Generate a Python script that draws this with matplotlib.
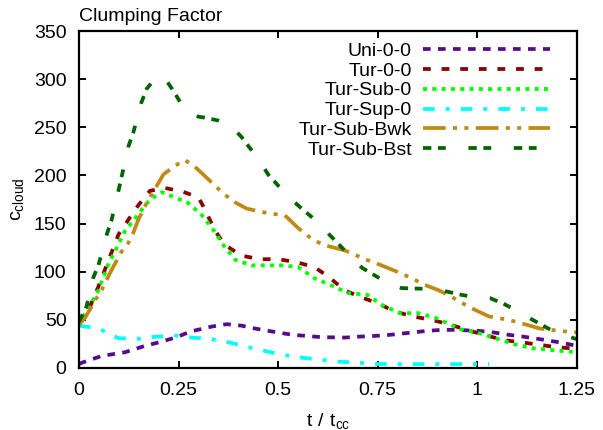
import numpy as np
import matplotlib
matplotlib.use('Agg')
import matplotlib.pyplot as plt

plt.rcParams['font.family'] = ['Liberation Sans', 'DejaVu Sans']
plt.rcParams['font.size'] = 14
plt.rcParams['lines.scale_dashes'] = False

# values (t / t_cc , c_cloud)
t_uni = [0, 0.007, 0.057, 0.115, 0.166, 0.208, 0.249, 0.279, 0.333, 0.371,
         0.408, 0.442, 0.5, 0.538, 0.609, 0.668, 0.705, 0.743, 0.78, 0.835,
         0.873, 0.91, 0.948, 1.005, 1.04, 1.08, 1.115, 1.172, 1.21, 1.25]
c_uni = [4, 5.5, 12.5, 16.3, 23, 27.4, 32.6, 37.8, 43, 45.5,
         44, 41, 36.8, 34.4, 32, 31.6, 32.6, 33.3, 34.4, 36.8,
         38.5, 39.6, 39.6, 38.5, 37, 34.4, 32.6, 29, 26.4, 23]

t_tur = [0, 0.007, 0.028, 0.049, 0.065, 0.099, 0.124, 0.149, 0.178, 0.216,
         0.262, 0.3, 0.316, 0.341, 0.366, 0.408, 0.454, 0.5, 0.546, 0.592,
         0.626, 0.668, 0.708, 0.751, 0.793, 0.839, 0.885, 0.929, 0.973, 1.019,
         1.065, 1.111, 1.157, 1.203, 1.25]
c_tur = [46, 50, 64, 85, 102, 138.5, 154, 169, 184, 187,
         183, 177, 165, 143, 128, 116.7, 113, 113, 110, 104.5,
         95, 80.5, 73.6, 67, 58.7, 53.5, 50, 45.5, 39.6, 34.4,
         29, 26.7, 24, 21.5, 20]

t_sub = [0, 0.01, 0.036, 0.049, 0.074, 0.095, 0.115, 0.145, 0.178, 0.209,
         0.233, 0.274, 0.308, 0.337, 0.362, 0.392, 0.433, 0.509, 0.55, 0.592,
         0.63, 0.676, 0.724, 0.76, 0.806, 0.852, 0.898, 0.94, 0.96, 1.006,
         1.053, 1.094, 1.14, 1.186, 1.232, 1.25]
c_sub = [44, 53, 71, 81, 108, 125, 142, 157.6, 175, 182.6,
         178.5, 171.5, 159, 143.8, 128, 112.5, 106.6, 106.6, 105, 93,
         86.5, 77.8, 76, 65.6, 57, 57, 51.7, 43.7, 40, 36,
         30, 24.6, 20.5, 18.7, 17, 16.5]

t_sup = [0, 0.049, 0.099, 0.145, 0.195, 0.241, 0.283, 0.333, 0.379, 0.421,
         0.467, 0.513, 0.559, 0.597, 0.651, 0.7, 0.747, 0.8, 0.9, 1.03]
c_sup = [44, 41, 31, 30, 32.6, 33.7, 31.6, 30, 26.4, 22,
         17.7, 13.5, 10.7, 9, 6.6, 5.5, 4.2, 4, 4, 4]

t_bwk = [0, 0.015, 0.044, 0.057, 0.082, 0.107, 0.124, 0.136, 0.149, 0.17,
         0.195, 0.212, 0.241, 0.266, 0.291, 0.312, 0.35, 0.366, 0.392, 0.421,
         0.459, 0.488, 0.517, 0.55, 0.572, 0.595, 0.622, 0.668, 0.693, 0.718,
         0.745, 0.793, 0.839, 0.864, 0.902, 0.931, 0.956, 0.981, 1.03, 1.078,
         1.107, 1.157, 1.207, 1.25]
c_bwk = [45, 52, 72.6, 81, 102, 121, 130, 140, 154, 171.5,
         189, 201, 210, 216, 209, 201, 186, 180, 172, 165.6,
         162, 160, 158.6, 145.5, 138, 131.6, 127, 122, 117.7, 113,
         109, 101, 92.7, 87, 81, 75, 69, 63, 53.5, 50,
         47, 41, 38.5, 37]

t_bst = [0, 0.019, 0.036, 0.049, 0.07, 0.082, 0.103, 0.124, 0.136, 0.157,
         0.17, 0.19, 0.212, 0.237, 0.26, 0.279, 0.3, 0.316, 0.35, 0.383,
         0.408, 0.454, 0.475, 0.523, 0.55, 0.609, 0.63, 0.684, 0.711, 0.776,
         0.81, 0.885, 0.923, 0.96, 0.994, 1.032, 1.065, 1.099, 1.132, 1.197,
         1.25]
c_bst = [48, 64, 94, 107, 139, 154, 191, 230, 244, 276,
         290, 300, 303, 288, 272, 265, 261, 260, 257, 251,
         240, 215, 201, 179, 169, 148, 138, 115, 104, 88,
         83, 82, 79.5, 76, 73.6, 72.6, 67, 59.7, 51.7, 36.8,
         30]

labels = ['Uni-0-0', 'Tur-0-0', 'Tur-Sub-0', 'Tur-Sup-0', 'Tur-Sub-Bwk', 'Tur-Sub-Bst']
colors = ['#540c8c', '#8b0000', '#00ff00', '#00ffff', '#c08a14', '#006400']
styles = [(0, (5.5, 5.3)),
          (0, (5.6, 7.8)),
          (0, (2.9, 3.8)),
          (0, (8.4, 7.9, 2.9, 7.9)),
          (0, (16.3, 5.3, 2.9, 5.3, 2.9, 5.3)),
          (0, (6, 4.8, 5.6, 16.3))]
series = [(t_uni, c_uni), (t_tur, c_tur), (t_sub, c_sub),
          (t_sup, c_sup), (t_bwk, c_bwk), (t_bst, c_bst)]

fig = plt.figure(figsize=(6.03, 4.30), dpi=100)
ax = fig.add_axes([0.131, 0.1442, 0.8254, 0.7837])

for (t, c), lab, col, ls in zip(series, labels, colors, styles):
    ax.plot(t, c, color=col, linestyle=ls, lw=2.7, label=lab)

ax.set_xlim(0, 1.25)
ax.set_ylim(0, 350)
ax.set_xticks([0, 0.25, 0.5, 0.75, 1, 1.25])
ax.set_xticklabels(['0', '0.25', '0.5', '0.75', '1', '1.25'])
ax.set_yticks(np.arange(0, 351, 50))
ax.tick_params(direction='in', length=5.3, width=1.4, top=True, right=True)
ax.tick_params(axis='x', pad=10)
ax.tick_params(axis='y', pad=9)
for s in ax.spines.values():
    s.set_linewidth(1.6)

ax.set_title('Clumping Factor', loc='left', pad=7.2, fontsize=14)
ax.set_xlabel(r'$\mathregular{t\ /\ t_{cc}}$')
ax.set_ylabel(r'$\mathregular{c_{cloud}}$')
ax.xaxis.label.set_va('baseline')
ax.xaxis.set_label_coords(0.5, -0.173)
ax.yaxis.set_label_coords(-0.106, 0.5)

ax.legend(loc='upper right', bbox_to_anchor=(0.946, 0.967), frameon=False,
          markerfirst=False, handlelength=6.5, handletextpad=0.6,
          labelspacing=0.116, borderpad=0, borderaxespad=0, fontsize=14)

fig.savefig('out.png', dpi=100)
